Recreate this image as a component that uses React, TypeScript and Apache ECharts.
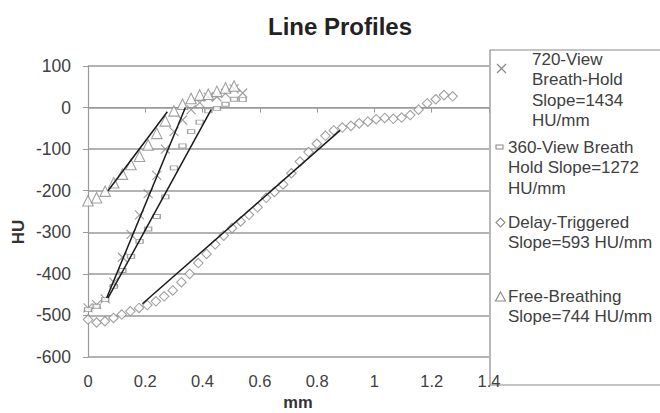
import React, { useEffect, useRef } from "react";
import * as echarts from "echarts";

const xTicks = { min: 0, max: 1.4, interval: 0.2 };
const yTicks = { min: -600, max: 100, interval: 100 };

const view720: [number, number][] = [
  [0.0, -482], [0.03, -474], [0.06, -460], [0.09, -420], [0.12, -360], [0.15, -305],
  [0.18, -258], [0.21, -207], [0.24, -163], [0.27, -100], [0.3, -58], [0.33, -30],
  [0.36, -5], [0.39, 12], [0.42, 25], [0.45, 26], [0.48, 34], [0.51, 45], [0.54, 35],
];
const view360: [number, number][] = [
  [0.0, -486], [0.03, -478], [0.06, -462], [0.09, -430], [0.12, -392], [0.15, -358],
  [0.18, -322], [0.21, -292], [0.24, -262], [0.27, -215], [0.3, -145], [0.33, -92],
  [0.36, -58], [0.39, -35], [0.42, -8], [0.45, -2], [0.48, 8], [0.51, 20], [0.54, 19],
];
const delayTrig: [number, number][] = [
  [0.0, -510], [0.03, -517], [0.059, -514], [0.089, -506], [0.118, -498], [0.148, -490],
  [0.178, -482], [0.207, -475], [0.237, -466], [0.266, -454], [0.296, -440], [0.326, -420],
  [0.355, -400], [0.385, -374], [0.414, -352], [0.444, -329], [0.474, -308], [0.503, -290],
  [0.533, -274], [0.562, -258], [0.592, -240], [0.622, -217], [0.651, -203], [0.681, -185],
  [0.71, -158], [0.74, -130], [0.77, -107], [0.799, -87], [0.829, -68], [0.858, -55],
  [0.888, -48], [0.918, -44], [0.947, -38], [0.977, -34], [1.006, -28], [1.036, -25],
  [1.066, -27], [1.095, -24], [1.125, -18], [1.154, -5], [1.184, 10], [1.214, 20],
  [1.243, 30], [1.273, 27],
];
const freeBreath: [number, number][] = [
  [0.0, -224], [0.03, -217], [0.06, -201], [0.09, -181], [0.12, -160], [0.15, -137],
  [0.18, -117], [0.21, -90], [0.24, -62], [0.27, -32], [0.3, -8], [0.33, 8],
  [0.36, 22], [0.39, 30], [0.42, 32], [0.45, 39], [0.48, 47], [0.51, 52],
];

const trend720: [number, number][] = [[0.065, -458], [0.34, 0]];
const trend360: [number, number][] = [[0.07, -458], [0.43, -5]];
const trendDelay: [number, number][] = [[0.19, -472], [0.88, -55]];
const trendFree: [number, number][] = [[0.07, -200], [0.277, -10]];

const legend720 = ["720-View", "Breath-Hold", "Slope=1434", "HU/mm"];
const legend360 = ["360-View Breath", "Hold Slope=1272", "HU/mm"];
const legendDelay = ["Delay-Triggered", "Slope=593 HU/mm"];
const legendFree = ["Free-Breathing", "Slope=744 HU/mm"];

const FONT = "'Liberation Sans', Arial, sans-serif";
const MARK = "#8a8a8a";
const TEXT = "#404040";

function textLines(lines: string[], x: number, y0: number, step: number) {
  return lines.map((t, i) => ({
    type: "text",
    style: {
      text: t,
      x,
      y: y0 + i * step,
      fontSize: 17,
      fontFamily: FONT,
      fill: TEXT,
      verticalAlign: "middle",
    },
  }));
}

export default function App() {
  const ref = useRef<HTMLDivElement>(null);
  useEffect(() => {
    if (!ref.current) return;
    const chart = echarts.init(ref.current, null, { renderer: "svg" });
    const scatter = (name: string, data: [number, number][], symbol: string, size: any, extra: any = {}) => ({
      name,
      type: "scatter",
      data,
      symbol,
      symbolSize: size,
      itemStyle: { color: "#ffffff", borderColor: MARK, borderWidth: 1.1, ...extra },
      z: 2,
    });
    const trend = (data: [number, number][]) => ({
      type: "line",
      data,
      symbol: "none",
      lineStyle: { color: "#1a1a1a", width: 1.5 },
      z: 3,
    });
    chart.setOption({
      animation: false,
      backgroundColor: "#ffffff",
      title: {
        text: "Line Profiles",
        left: 335,
        textAlign: "center",
        top: 9,
        textStyle: { fontSize: 24, fontWeight: "bold", color: "#222", fontFamily: FONT },
      },
      grid: { left: 88, right: 171, top: 66, bottom: 56, containLabel: false },
      xAxis: {
        type: "value",
        min: xTicks.min,
        max: xTicks.max,
        interval: xTicks.interval,
        axisLine: { lineStyle: { color: "#999", width: 1.2 } },
        axisTick: { show: true, inside: false, length: 5, lineStyle: { color: "#999" } },
        axisLabel: { fontSize: 16.5, color: TEXT, fontFamily: FONT, margin: 15 },
        splitLine: { show: false },
      },
      yAxis: {
        type: "value",
        min: yTicks.min,
        max: yTicks.max,
        interval: yTicks.interval,
        axisLine: { show: true, lineStyle: { color: "#999", width: 1.2 } },
        axisTick: { show: true, inside: false, length: 5, lineStyle: { color: "#999" } },
        axisLabel: { fontSize: 17.5, color: TEXT, fontFamily: FONT, margin: 17 },
        splitLine: { show: true, lineStyle: { color: "#9a9a9a", width: 1.5 } },
      },
      series: [
        scatter("720-View", view720, "path://M0,0L10,10M0,10L10,0", 9, { color: "none", borderWidth: 1.2 }),
        scatter("360-View", view360, "rect", [7, 4]),
        scatter("Delay-Triggered", delayTrig, "diamond", 9.5),
        scatter("Free-Breathing", freeBreath, "triangle", 10.5),
        trend(trend720),
        trend(trend360),
        trend(trendDelay),
        trend(trendFree),
      ],
      graphic: [
        {
          type: "text",
          x: 18,
          y: 232,
          rotation: Math.PI / 2,
          style: {
            text: "HU",
            fontSize: 17,
            fontWeight: "bold",
            fontFamily: FONT,
            fill: "#333",
            align: "center",
            verticalAlign: "middle",
          },
        },
        {
          type: "text",
          x: 298,
          y: 402,
          style: {
            text: "mm",
            fontSize: 16.5,
            fontWeight: "bold",
            fontFamily: FONT,
            fill: "#333",
            align: "center",
            verticalAlign: "middle",
          },
        },
        {
          type: "rect",
          shape: { x: 490, y: 50, width: 180, height: 335 },
          style: { fill: "none", stroke: "#8a8a8a", lineWidth: 1.2 },
        },
        { type: "line", shape: { x1: 497, y1: 64, x2: 506, y2: 73 }, style: { stroke: MARK, lineWidth: 1.2 } },
        { type: "line", shape: { x1: 497, y1: 73, x2: 506, y2: 64 }, style: { stroke: MARK, lineWidth: 1.2 } },
        ...textLines(legend720, 532, 59, 20.5),
        {
          type: "rect",
          shape: { x: 496, y: 145, width: 7, height: 4 },
          style: { fill: "#fff", stroke: MARK, lineWidth: 1.1 },
        },
        ...textLines(legend360, 508, 147, 20.5),
        {
          type: "polygon",
          shape: { points: [[500.5, 218], [505, 222.5], [500.5, 227], [496, 222.5]] },
          style: { fill: "#fff", stroke: MARK, lineWidth: 1.1 },
        },
        ...textLines(legendDelay, 508, 222, 20.5),
        {
          type: "polygon",
          shape: { points: [[500.5, 292], [505.5, 301], [495.5, 301]] },
          style: { fill: "#fff", stroke: MARK, lineWidth: 1.1 },
        },
        ...textLines(legendFree, 508, 296, 20.5),
      ],
    });
    return () => chart.dispose();
  }, []);
  return (
    <div
      ref={ref}
      style={{ position: "fixed", left: 0, top: 0, width: 660, height: 413, background: "#fff" }}
    />
  );
}
